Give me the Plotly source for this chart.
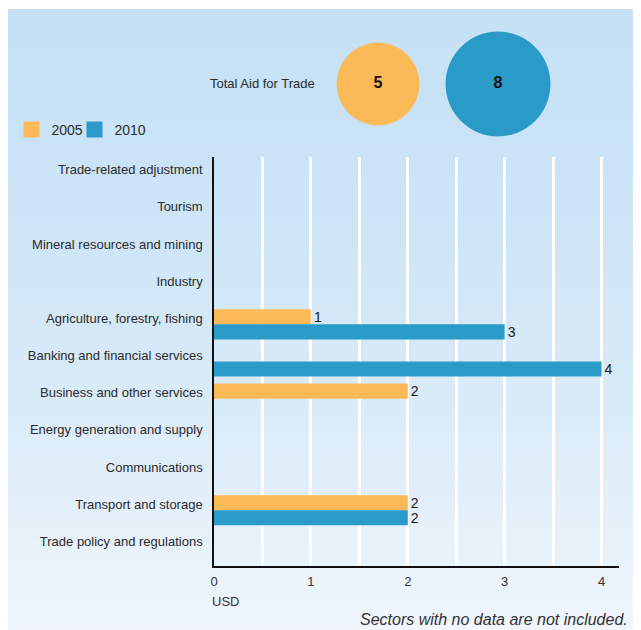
import plotly.graph_objects as go

# ---------------- data ----------------
categories = [
    "Trade-related adjustment",
    "Tourism",
    "Mineral resources and mining",
    "Industry",
    "Agriculture, forestry, fishing",
    "Banking and financial services",
    "Business and other services",
    "Energy generation and supply",
    "Communications",
    "Transport and storage",
    "Trade policy and regulations",
]
values_2005 = [None, None, None, None, 1, None, 2, None, None, 2, None]
values_2010 = [None, None, None, None, 3, 4, None, None, None, 2, None]
series_names = ["2005", "2010"]
total_aid = [5, 8]
total_label = "Total Aid for Trade"
x_ticks = [0, 1, 2, 3, 4]
x_unit = "USD"
footnote = "Sectors with no data are not included."

# ---------------- style ----------------
OFF = 8                      # page body margin
W, H = 641 - OFF, 630 - OFF
ML = 214 - OFF
MR = W - (619 - OFF)
MT = 0
MB = H - (566 - OFF)
PW = W - ML - MR
PH = H - MT - MB
ORANGE = "#FBB958"
BLUE = "#2A9BC8"
TXT = "#2b2b2b"
FONT = "Liberation Sans, Arial, sans-serif"

def X(p):   # reference pixel x -> paper
    return (p - OFF - ML) / PW

def Y(p):   # reference pixel y -> paper
    return (MT + PH - (p - OFF)) / PH

colors = [ORANGE, BLUE]
series_vals = [values_2005, values_2010]
legend_ids = ["legend", "legend2"]
legend_x = [11.5, 74.5]

fig = go.Figure()

# background gradient panel (strips)
top_c = (198, 225, 245)
bot_c = (240, 246, 252)
y0_pan, y1_pan = 9, 632
n = 70
step = (y1_pan - y0_pan) / n
for i in range(n):
    t = (i + 0.5) / n
    f = t ** 1.6
    c = tuple(int(round(top_c[k] + (bot_c[k] - top_c[k]) * f)) for k in range(3))
    fig.add_shape(type="rect", xref="paper", yref="paper", layer="below",
                  x0=X(4), x1=X(645),
                  y0=Y(y0_pan + (i + 1) * step + 0.6), y1=Y(y0_pan + i * step),
                  fillcolor="rgb(%d,%d,%d)" % c, line=dict(width=0))

# bars
for name, vals, col in zip(series_names, series_vals, colors):
    fig.add_trace(go.Bar(
        y=categories, x=vals, orientation="h", name=name,
        marker=dict(color=col, line=dict(width=0)),
        text=[("" if v is None else str(v)) for v in vals],
        textposition="outside", cliponaxis=False, constraintext="none",
        textfont=dict(family=FONT, size=14, color="#1a1a1a"),
        showlegend=False, hoverinfo="skip",
    ))

# legend-only entries (one legend box per series)
for name, col, lg in zip(series_names, colors, legend_ids):
    fig.add_trace(go.Scatter(
        x=[None], y=[None], mode="markers", name=name, legend=lg,
        marker=dict(symbol="square", size=16, color=col),
        showlegend=True,
    ))

# total aid bubbles
k = 37.1
fig.add_trace(go.Scatter(
    x=list(range(len(total_aid))), y=[0] * len(total_aid),
    xaxis="x2", yaxis="y2", mode="markers+text",
    marker=dict(size=[k * v ** 0.5 for v in total_aid], sizemode="diameter",
                color=colors, line=dict(width=0), opacity=1),
    text=[str(v) for v in total_aid], textposition="middle center",
    textfont=dict(family=FONT, size=16, color="#111", weight="bold"),
    showlegend=False, hoverinfo="skip", cliponaxis=False,
))

# x2 axis: 0 -> 378px, 1 -> 498px (reference pixels)
ppu = 120.0
r0 = -(378 - OFF - ML) / ppu
r1 = r0 + PW / ppu
fig.add_annotation(xref="x2", yref="y2", x=r0 + (317 - OFF - ML) / ppu, y=0,
                   text=total_label, showarrow=False, xanchor="right",
                   font=dict(family=FONT, size=13, color=TXT))

legend_common = dict(orientation="h", xanchor="left", yanchor="middle",
                     bgcolor="rgba(0,0,0,0)", itemsizing="trace",
                     font=dict(family=FONT, size=14, color=TXT))

fig.update_layout(
    width=W, height=H,
    margin=dict(l=ML, r=MR, t=MT, b=MB, autoexpand=False),
    paper_bgcolor="white", plot_bgcolor="rgba(0,0,0,0)",
    barmode="group", bargap=0.19, bargroupgap=0,
    font=dict(family=FONT, size=13, color=TXT),
    xaxis=dict(range=[0, 4.18], tickvals=x_ticks, ticktext=[str(v) for v in x_ticks],
               showgrid=True, gridcolor="white", gridwidth=2.5,
               minor=dict(dtick=0.5, showgrid=True, gridcolor="white", gridwidth=2.5),
               showline=True, linecolor="#111", linewidth=1.5,
               zeroline=False, ticks="", ticklabelstandoff=3,
               tickfont=dict(family=FONT, size=13, color="#333")),
    yaxis=dict(domain=[0, Y(157)], categoryorder="array", categoryarray=categories,
               autorange="reversed", showgrid=False, zeroline=False,
               showline=True, linecolor="#111", linewidth=1.5,
               ticks="", ticklabelstandoff=7, ticklabelshift=6,
               tickfont=dict(family=FONT, size=13, color=TXT)),
    xaxis2=dict(domain=[0, 1], range=[r0, r1], visible=False, anchor="y2"),
    yaxis2=dict(domain=[Y(84) - 0.1, Y(84) + 0.1], range=[-1, 1], visible=False, anchor="x2"),
    legend=dict(x=X(legend_x[0]), y=Y(130), **legend_common),
    legend2=dict(x=X(legend_x[1]), y=Y(130), **legend_common),
)

fig.add_annotation(xref="paper", yref="paper", x=X(210), y=Y(601),
                   text=x_unit, showarrow=False, xanchor="left", yanchor="middle",
                   font=dict(family=FONT, size=13, color="#333"))
fig.add_annotation(xref="paper", yref="paper", x=X(630), y=Y(619),
                   text="<i>" + footnote + "</i>", showarrow=False, xanchor="right", yanchor="middle",
                   font=dict(family=FONT, size=16, color="#333"))

fig.write_html("out.html")
